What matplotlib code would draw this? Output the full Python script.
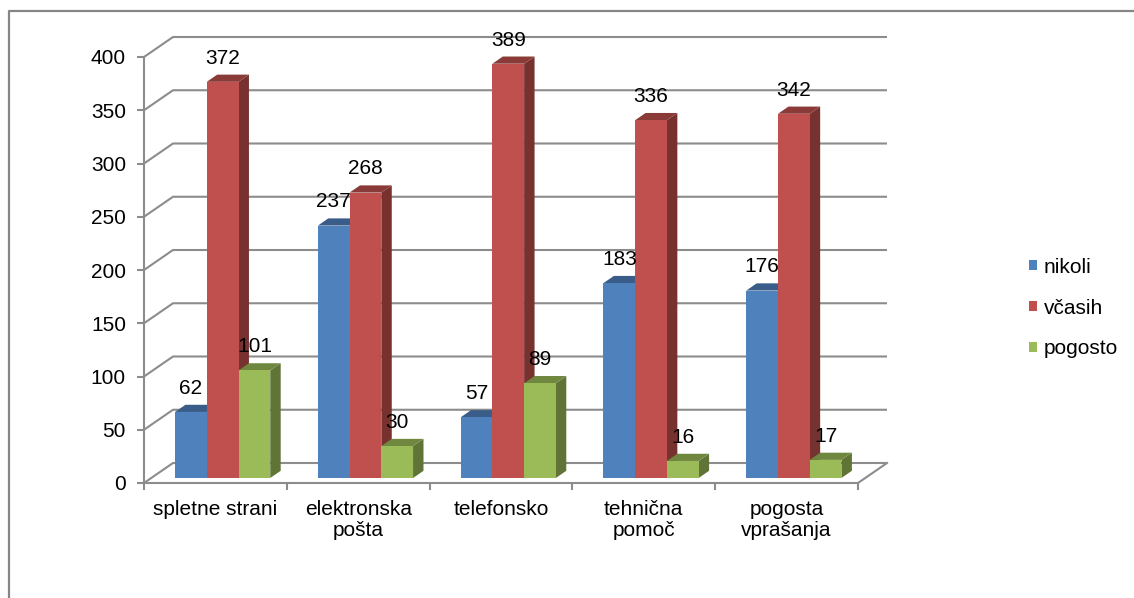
import numpy as np
import matplotlib.pyplot as plt
from matplotlib.patches import Polygon, Patch
from matplotlib.lines import Line2D
import matplotlib.colors as mcolors

plt.rcParams['font.family'] = ['Liberation Sans', 'DejaVu Sans']

# ------------------------------------------------------------
# data
# ------------------------------------------------------------
categories = ["spletne strani", "elektronska\npošta", "telefonsko",
              "tehnična\npomoč", "pogosta\nvprašanja"]
series_names = ["nikoli", "včasih", "pogosto"]
nikoli = [62, 237, 57, 183, 176]
vcasih = [372, 268, 389, 336, 342]
pogosto = [101, 30, 89, 16, 17]
y_ticks = [0, 50, 100, 150, 200, 250, 300, 350, 400]

series_values = [nikoli, vcasih, pogosto]
colors = ["#4F81BD", "#C0504D", "#9BBB59"]
grid_col = "#8c8c8c"
FS = 15

# ------------------------------------------------------------
# figure / axes (front plane of the 3D box)
# ------------------------------------------------------------
W, H = 1134, 598
fig = plt.figure(figsize=(W / 100, H / 100), dpi=100)
ax = fig.add_axes([144 / W, (H - 483) / H, 714 / W, 426 / H])
n = len(categories)
ax.set_xlim(0, n)
ax.set_ylim(0, 400)

# depth of the box in data units
DX = 29 / (714 / n)
DY = 20 / (426 / 400)

for s in ["top", "right"]:
    ax.spines[s].set_visible(False)
for s in ["left", "bottom"]:
    ax.spines[s].set_color(grid_col)
    ax.spines[s].set_linewidth(1.5)

ax.set_yticks(y_ticks)
ax.set_yticklabels([str(t) for t in y_ticks], fontsize=FS)
ax.set_xticks(np.arange(n + 1))
ax.set_xticklabels([])
ax.set_xticks(np.arange(n) + 0.5, minor=True)
ax.set_xticklabels(categories, minor=True, fontsize=FS, linespacing=1.15)
ax.tick_params(axis="both", which="major", length=5, width=1.5,
               color=grid_col, direction="out")
ax.tick_params(axis="y", pad=8)
ax.tick_params(axis="x", which="minor", length=0, pad=12)

# ------------------------------------------------------------
# back wall gridlines + floor
# ------------------------------------------------------------
for t in y_ticks:
    ax.plot([0, DX, n + DX], [t, t + DY, t + DY], color=grid_col,
            lw=1.5, clip_on=False, zorder=1, solid_capstyle="butt")
ax.plot([n, n + DX], [0, DY], color=grid_col, lw=1.5, clip_on=False, zorder=1)

# ------------------------------------------------------------
# 3D bars
# ------------------------------------------------------------
w = 1 / 4.5           # bar width (gap width 150%)
f0 = 0.25             # depth position of bar front
fb = 0.36             # bar depth
bdx, bdy = fb * DX, fb * DY


def shade(c, k):
    r, g, b = mcolors.to_rgb(c)
    return (r * k, g * k, b * k)


z = 3
for i in range(n):
    for j, vals in enumerate(series_values):
        v = vals[i]
        x0 = i + 0.75 * w + j * w + f0 * DX
        y0 = f0 * DY
        col = colors[j]
        side = Polygon([(x0 + w, y0), (x0 + w + bdx, y0 + bdy),
                        (x0 + w + bdx, y0 + v + bdy), (x0 + w, y0 + v)],
                       closed=True, fc=shade(col, 0.62), ec="none",
                       clip_on=False, zorder=z)
        top = Polygon([(x0, y0 + v), (x0 + w, y0 + v),
                       (x0 + w + bdx, y0 + v + bdy), (x0 + bdx, y0 + v + bdy)],
                      closed=True, fc=shade(col, 0.72), ec="none",
                      clip_on=False, zorder=z)
        front = Polygon([(x0, y0), (x0 + w, y0), (x0 + w, y0 + v), (x0, y0 + v)],
                        closed=True, fc=col, ec="none", clip_on=False,
                        zorder=z + 0.5)
        ax.add_patch(side)
        ax.add_patch(top)
        ax.add_patch(front)
        ax.annotate(str(v), xy=(x0 + w / 2, y0 + v + bdy), xytext=(0, 5),
                    textcoords="offset points", ha="center", va="bottom",
                    fontsize=FS, color="black", zorder=20,
                    annotation_clip=False)
        z += 1

# ------------------------------------------------------------
# legend
# ------------------------------------------------------------
handles = [Patch(fc=c, ec="none", label=l) for c, l in zip(colors, series_names)]
fig.legend(handles=handles, loc="center left",
           bbox_to_anchor=(1029 / W, 1 - 308 / H), frameon=False,
           fontsize=FS, handlelength=0.4, handleheight=0.4,
           handletextpad=0.3, labelspacing=1.05, borderpad=0,
           borderaxespad=0)

# chart frame
fig.add_artist(Line2D([9 / W, 9 / W, 1], [0, 1 - 11 / H, 1 - 11 / H],
                      transform=fig.transFigure, color="#868686", lw=1.6))

fig.savefig("out.png", dpi=100)
